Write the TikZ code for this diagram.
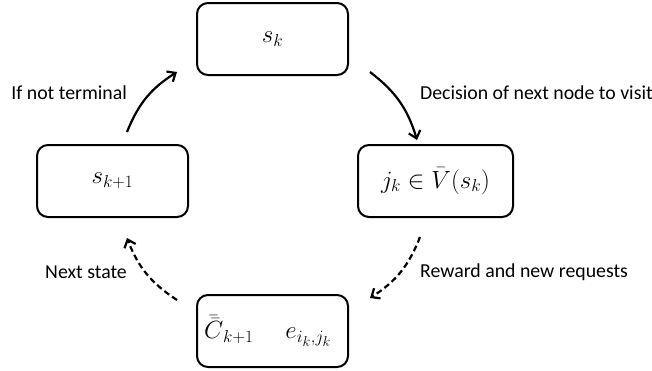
\documentclass[tikz,border=0pt]{standalone}
\usepackage{fontspec}
\setmainfont{Carlito}
\usetikzlibrary{arrows.meta}
\begin{document}
\begin{tikzpicture}[x=1pt,y=-1pt,
  statebox/.style={draw, line width=2pt, rounded corners=11pt, minimum width=151pt, minimum height=72pt, inner sep=0pt, font=\fontsize{27}{30}\selectfont},
  lbl/.style={font=\fontsize{19.8}{23}\selectfont, inner sep=0pt},
  conn/.style={line width=2.2pt, -{Straight Barb[length=7pt,width=12pt,line width=2.2pt]}},
  dconn/.style={conn, dash pattern=on 6pt off 3.5pt}]
\useasboundingbox (0,0) rectangle (652,370);
\node[statebox] (top) at (272.5,39) {$s_k$};
\node[statebox, minimum width=155pt] (right) at (435.5,181) {$j_k \in \bar{V}(s_k)$};
\node[statebox, text width=137pt, align=left] (bot) at (272.5,331) {$\bar{\bar{C}}_{k+1}\hspace{32pt} e_{i_k,j_k}$};
\node[statebox] (left) at (112.5,181) {$s_{k+1}$};
\coordinate (a1) at (127,132); \coordinate (a2) at (177,72);
\coordinate (b1) at (370,72); \coordinate (b2) at (417,140);
\coordinate (c1) at (420,237); \coordinate (c2) at (370,298);
\coordinate (d1) at (177,300); \coordinate (d2) at (127,238);
\draw[conn] (a1) to[bend left=18] (a2);
\draw[conn] (b1) to[bend left=18] (b2);
\draw[dconn] (c1) to[bend left=18] (c2);
\draw[dconn] (d1) to[bend left=18] (d2);
\node[lbl, anchor=east] (l1) at (127,93) {If not terminal};
\node[lbl, anchor=west] (l2) at (420,93) {Decision of next node to visit};
\node[lbl, anchor=west] (l3) at (420,272) {Reward and new requests};
\node[lbl, anchor=east] (l4) at (127,272) {Next state};
\end{tikzpicture}
\end{document}
